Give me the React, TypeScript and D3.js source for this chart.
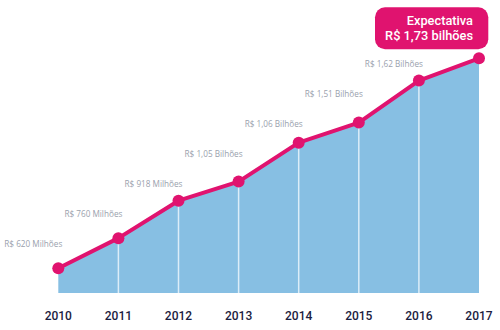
import React from "react";
import * as d3 from "d3";

const years = ["2010", "2011", "2012", "2013", "2014", "2015", "2016", "2017"];
// heights as drawn in the picture (in millions)
const plotted = [620, 779, 977, 1078, 1284, 1390, 1612, 1730];
const valueLabels = [
  "R$ 620 Milhões",
  "R$ 760 Milhões",
  "R$ 918 Milhões",
  "R$ 1,05 Bilhões",
  "R$ 1,06 Bilhões",
  "R$ 1,51 Bilhões",
  "R$ 1,62 Bilhões",
];
const badgeLines = ["Expectativa", "R$ 1,73 bilhões"];

const W = 500;
const H = 330;
const PINK = "#e0136f";
const BLUE = "#87bfe3";

export default function App() {
  const x = d3
    .scalePoint<string>()
    .domain(years)
    .range([58.3, 479]);
  const y = d3.scaleLinear().domain([489, 1730]).range([293, 58.3]);
  const data = years.map((yr, i) => ({ yr, v: plotted[i] }));
  const area = d3
    .area<{ yr: string; v: number }>()
    .x((d) => x(d.yr)!)
    .y0(y(489))
    .y1((d) => y(d.v));
  const line = d3
    .line<{ yr: string; v: number }>()
    .x((d) => x(d.yr)!)
    .y((d) => y(d.v));

  return (
    <svg
      width={W}
      height={H}
      style={{ position: "absolute", left: 0, top: 0, background: "#fff" }}
      fontFamily="'Open Sans', 'Noto Sans', sans-serif"
    >
      <path d={area(data)!} fill={BLUE} />
      {data.slice(1, -1).map((d) => (
        <line
          key={"v" + d.yr}
          x1={x(d.yr)}
          x2={x(d.yr)}
          y1={y(d.v)}
          y2={y(489)}
          stroke="#dcedf8"
          strokeWidth={1.5}
        />
      ))}
      <path
        d={line(data)!}
        fill="none"
        stroke={PINK}
        strokeWidth={4}
        strokeLinejoin="round"
      />
      {data.map((d) => (
        <circle key={"c" + d.yr} cx={x(d.yr)} cy={y(d.v)} r={6} fill={PINK} />
      ))}
      {valueLabels.map((t, i) => (
        <text
          key={"l" + i}
          x={x(years[i])! + 4}
          y={247 - 30 * i}
          textAnchor="end"
          fontSize={8.2}
          fill="#9aa1ad"
        >
          {t}
        </text>
      ))}
      {years.map((yr) => (
        <text
          key={"t" + yr}
          x={x(yr)}
          y={320}
          textAnchor="middle"
          fontSize={12}
          fontWeight={500}
          fontFamily="Roboto, sans-serif"
          fill="#1b2140"
        >
          {yr}
        </text>
      ))}
      <rect x={375} y={7.3} width={113.3} height={42} rx={10} fill={PINK} />
      {badgeLines.map((t, i) => (
        <text
          key={"b" + i}
          x={473}
          y={25 + 14.5 * i}
          textAnchor="end"
          fontSize={12.8}
          fontWeight={500}
          fontFamily="Roboto, sans-serif"
          fill="#fff"
        >
          {t}
        </text>
      ))}
    </svg>
  );
}
